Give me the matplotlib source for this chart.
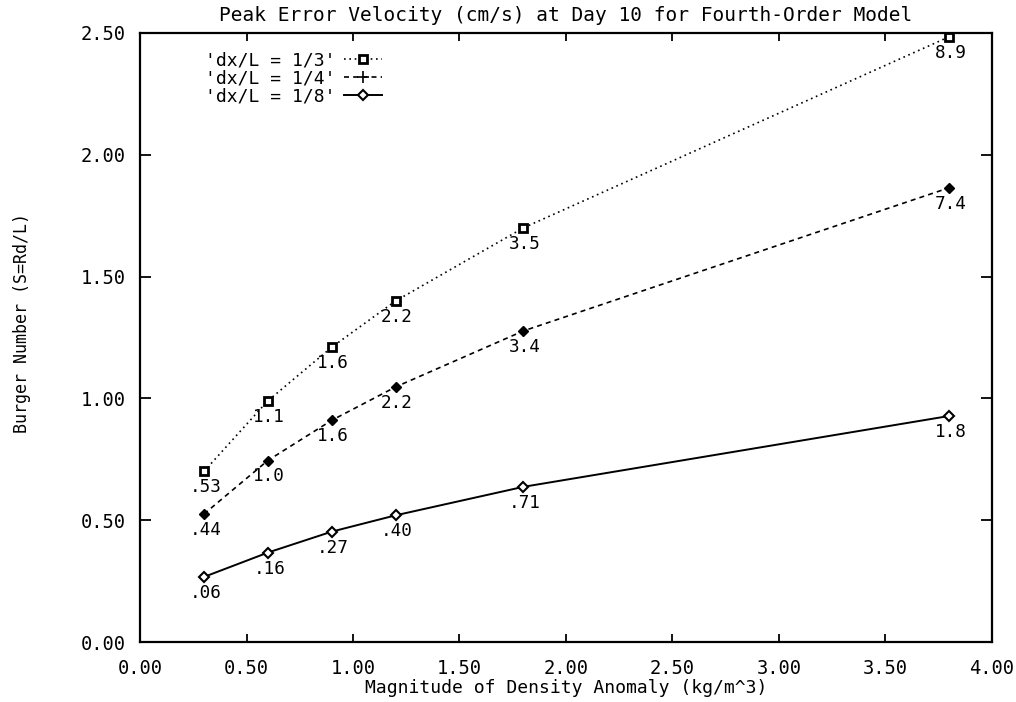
import matplotlib
matplotlib.use("Agg")
import numpy as np
import matplotlib.pyplot as plt
from matplotlib.lines import Line2D
from matplotlib.legend_handler import HandlerLine2D

density = [0.3, 0.6, 0.9, 1.2, 1.8, 3.8]
burger_third = [0.70, 0.99, 1.21, 1.40, 1.70, 2.485]
burger_quarter = [0.525, 0.745, 0.91, 1.047, 1.277, 1.865]
burger_eighth = [0.267, 0.367, 0.453, 0.52, 0.637, 0.928]
labels_third = [".53", "1.1", "1.6", "2.2", "3.5", "8.9"]
labels_quarter = [".44", "1.0", "1.6", "2.2", "3.4", "7.4"]
labels_eighth = [".06", ".16", ".27", ".40", ".71", "1.8"]
series_names = ["'dx/L = 1/3'", "'dx/L = 1/4'", "'dx/L = 1/8'"]
xticks = [0.0, 0.5, 1.0, 1.5, 2.0, 2.5, 3.0, 3.5, 4.0]
yticks = [0.0, 0.5, 1.0, 1.5, 2.0, 2.5]

FONT = "DejaVu Sans Mono"
plt.rcParams["font.family"] = FONT


class MarkerLeftHandler(HandlerLine2D):
    def get_xdata(self, legend, xdescent, ydescent, width, height, fontsize):
        xdata = np.array([-xdescent, -xdescent + width])
        xdata_marker = np.array([-xdescent + 0.3 * width])
        return xdata, xdata_marker


fig = plt.figure(figsize=(10.16, 7.02), dpi=100)
ax = fig.add_axes([140/1016, 1-642/702, (992-140)/1016, (642-33)/702])

dot_style = dict(color="black", lw=1.2, linestyle=(0, (1, 2.2)))
dash_style = dict(color="black", lw=1.2, linestyle=(0, (3, 2.5)))
solid_style = dict(color="black", lw=1.4, linestyle="-")

ax.plot(density, burger_third, marker="s", ms=5.5, mfc="white", mec="black", mew=2, **dot_style)
ax.plot(density, burger_quarter, marker="D", ms=5, mfc="black", mec="black", **dash_style)
ax.plot(density, burger_eighth, marker="D", ms=5.5, mfc="white", mec="black", mew=1.5, **solid_style)

for ys, labs in [(burger_third, labels_third), (burger_quarter, labels_quarter),
                 (burger_eighth, labels_eighth)]:
    for x, y, t in zip(density, ys, labs):
        ax.annotate(t, (x, y), xytext=(1, -11.5), textcoords="offset points",
                    ha="center", va="center", fontsize=12.7, family=FONT)

handles = [
    Line2D([], [], marker="s", ms=5.5, mfc="white", mec="black", mew=2, **dot_style),
    Line2D([], [], marker="+", ms=8, mec="black", mew=1.2, **dash_style),
    Line2D([], [], marker="D", ms=5.5, mfc="white", mec="black", mew=1.5, **solid_style),
]
h = MarkerLeftHandler()
ax.legend(handles, series_names, loc="upper left", bbox_to_anchor=(0.066, 0.984),
          frameon=False, markerfirst=False, handlelength=2.1,
          labelspacing=0.0, borderpad=0, handletextpad=0.45,
          handler_map={Line2D: h},
          prop={"family": FONT, "size": 13})

ax.set_xlim(0, 4)
ax.set_ylim(0, 2.5)
ax.set_xticks(xticks)
ax.set_yticks(yticks)
ax.set_xticklabels([f"{v:.2f}" for v in xticks], fontsize=13.5, family=FONT)
ax.set_yticklabels([f"{v:.2f}" for v in yticks], fontsize=13.5, family=FONT)
ax.tick_params(direction="in", length=6, width=1.3, top=True, right=True)
ax.tick_params(axis="y", pad=10, length=8)
ax.tick_params(axis="x", pad=12)
for s in ax.spines.values():
    s.set_linewidth(1.6)

ax.set_title("Peak Error Velocity (cm/s) at Day 10 for Fourth-Order Model",
             fontsize=14, family=FONT, pad=8.5)
ax.set_xlabel("Magnitude of Density Anomaly (kg/m^3)", fontsize=13, family=FONT, labelpad=1)
ax.set_ylabel("Burger Number (S=Rd/L)", fontsize=12, family=FONT)
ax.yaxis.set_label_coords(-0.128, 0.524)

fig.savefig("out.png", dpi=100)
